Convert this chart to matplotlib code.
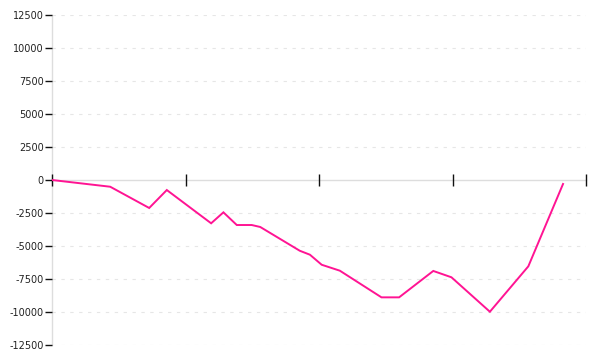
import matplotlib
matplotlib.use("Agg")
import matplotlib.pyplot as plt

# data (x in arbitrary units 0..100, y values)
x_vals = [0, 10.9, 18.2, 21.5, 29.8, 32.1, 34.6, 37.4, 39.0, 46.4, 48.3, 50.5,
          53.9, 61.7, 65.0, 71.4, 74.8, 82.0, 89.2, 95.7]
y_vals = [0, -510, -2120, -760, -3280, -2450, -3410, -3410, -3560, -5360, -5660,
          -6420, -6870, -8890, -8890, -6890, -7370, -9980, -6540, -300]
x_ticks = [0, 25, 50, 75, 100]
y_ticks = [-12500, -10000, -7500, -5000, -2500, 0, 2500, 5000, 7500, 10000, 12500]

fig = plt.figure(figsize=(6, 3.6), dpi=100)
ax = fig.add_axes([52/600, 1-345/360, (586-52)/600, (345-15)/360])

ax.plot(x_vals, y_vals, color="#ff1493", linewidth=1.4, solid_joinstyle="miter", zorder=3)

ax.set_xlim(0, 100)
ax.set_ylim(-12500, 12500)
ax.set_xticks(x_ticks)
ax.set_xticklabels([])
ax.set_yticks(y_ticks)
ax.set_yticklabels([str(v) for v in y_ticks], fontsize=7, color="#222222")

for v in y_ticks:
    if v != 0:
        ax.axhline(v, color="#e6e6e6", linewidth=0.8, linestyle=(0, (3, 5)), zorder=0)

ax.spines["top"].set_visible(False)
ax.spines["right"].set_visible(False)
ax.spines["bottom"].set_position(("data", 0))
ax.spines["bottom"].set_color("#dddddd")
ax.spines["left"].set_color("#dddddd")
ax.spines["bottom"].set_linewidth(1)
ax.spines["left"].set_linewidth(1)
ax.spines["bottom"].set_zorder(1)
ax.spines["left"].set_zorder(1)

ax.tick_params(axis="x", direction="inout", length=9, width=1, color="#111111")
ax.tick_params(axis="y", direction="out", length=5, width=1, color="#111111", pad=1)

fig.savefig("out.png", dpi=100)
